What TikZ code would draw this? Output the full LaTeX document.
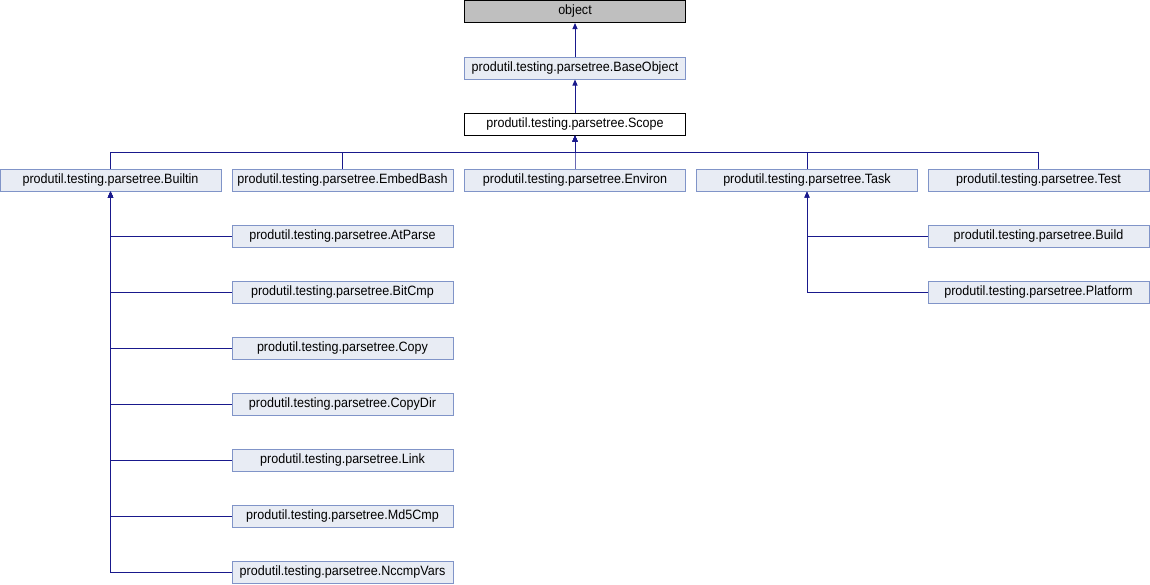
\documentclass[tikz,border=0pt]{standalone}
\usepackage{fontspec}
\setmainfont[FakeStretch=0.93]{Liberation Sans}
\usetikzlibrary{arrows.meta}
\definecolor{edgeblue}{RGB}{25,25,140}
\definecolor{boxfill}{RGB}{232,236,244}
\definecolor{boxdraw}{RGB}{128,148,200}
\definecolor{objfill}{RGB}{191,191,191}
\tikzset{
  cls/.style={draw=boxdraw, fill=boxfill, line width=1pt, minimum width=221pt, minimum height=22pt, inner sep=0pt, font=\fontsize{13.5}{15}\selectfont},
  root/.style={cls, draw=black, fill=objfill},
  cur/.style={cls, draw=black, fill=white},
  edge/.style={draw=edgeblue, line width=1pt, -{Triangle[length=6pt,width=5pt]}},
}
\begin{document}
\begin{tikzpicture}[x=1pt,y=-1pt]
\useasboundingbox (0,0) rectangle (1150,584);
\node[root] (object) at (575,11.5) {object};
\node[cls] (baseobject) at (575,68) {produtil.testing.parsetree.BaseObject};
\node[cur] (scope) at (575,124) {produtil.testing.parsetree.Scope};
\node[cls] (builtin) at (110.5,180) {produtil.testing.parsetree.Builtin};
\node[cls] (embedbash) at (342.5,180) {produtil.testing.parsetree.EmbedBash};
\node[cls] (environ) at (575,180) {produtil.testing.parsetree.Environ};
\node[cls] (task) at (807,180) {produtil.testing.parsetree.Task};
\node[cls] (test) at (1038.5,180) {produtil.testing.parsetree.Test};
\node[cls] (atparse) at (342.5,236) {produtil.testing.parsetree.AtParse};
\node[cls] (bitcmp) at (342.5,292) {produtil.testing.parsetree.BitCmp};
\node[cls] (copy) at (342.5,348) {produtil.testing.parsetree.Copy};
\node[cls] (copydir) at (342.5,404) {produtil.testing.parsetree.CopyDir};
\node[cls] (link) at (342.5,460) {produtil.testing.parsetree.Link};
\node[cls] (md5cmp) at (342.5,516) {produtil.testing.parsetree.Md5Cmp};
\node[cls] (nccmpvars) at (342.5,572) {produtil.testing.parsetree.NccmpVars};
\node[cls] (build) at (1038.5,236) {produtil.testing.parsetree.Build};
\node[cls] (platform) at (1038.5,292) {produtil.testing.parsetree.Platform};
\coordinate (bus) at (575,152);
\draw[edge] (baseobject.north) -- (object.south);
\draw[edge] (scope.north) -- (baseobject.south);
\foreach \c in {builtin,embedbash,environ,task,test}
  \draw[edge] (\c.north) |- (bus) -- (scope.south);
\foreach \c in {atparse,bitcmp,copy,copydir,link,md5cmp,nccmpvars}
  \draw[edge] (\c.west) -| (builtin.south);
\foreach \c in {build,platform}
  \draw[edge] (\c.west) -| (task.south);
\end{tikzpicture}
\end{document}
